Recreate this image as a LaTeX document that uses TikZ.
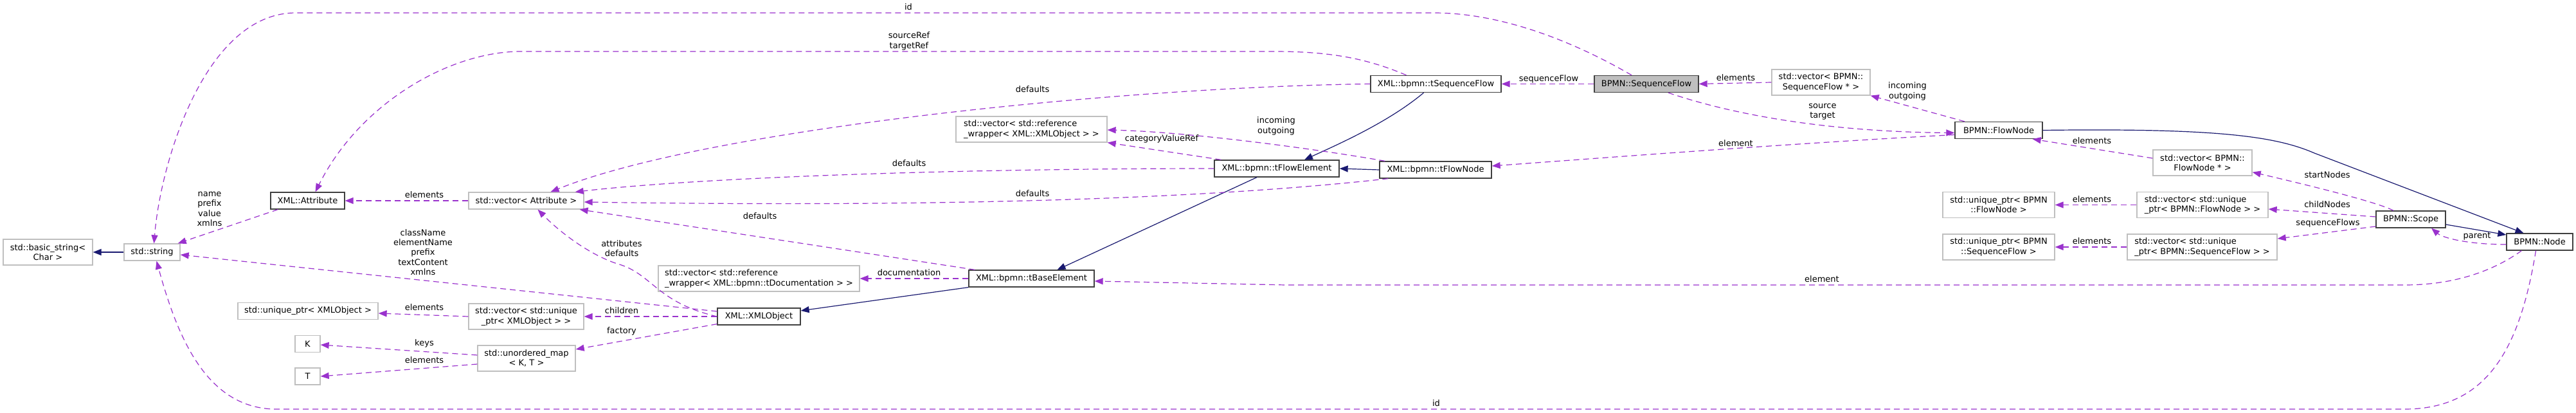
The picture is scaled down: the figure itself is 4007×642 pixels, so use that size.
\documentclass[tikz,border=0pt]{standalone}
\usepackage{fontspec}
\setmainfont{DejaVu Sans}
\usetikzlibrary{arrows.meta}
\definecolor{inhc}{HTML}{191970}
\definecolor{usec}{HTML}{9A32CD}
\definecolor{grayb}{HTML}{BFBFBF}
\definecolor{darkb}{HTML}{404040}
\begin{document}
\begin{tikzpicture}[x=1pt,y=-1pt,
  txt/.style={font=\fontsize{13pt}{15.3pt}\selectfont},
  box/.style={txt, rectangle, inner sep=0pt, align=center, line width=1.3pt},
  sz/.style 2 args={minimum width=#1pt, minimum height=#2pt},
  cls/.style={box, draw=darkb, fill=white},
  ext/.style={box, draw=grayb, fill=white},
  mainc/.style={box, draw=darkb, fill=grayb},
  lbl/.style={txt, align=center, inner sep=0pt},
  inh/.style={draw=inhc, line width=1.2pt, -{Triangle[length=13pt,width=10pt]}},
  use/.style={draw=usec, line width=1.2pt, dash pattern=on 9pt off 6pt, -{Triangle[length=13pt,width=10pt]}}
]
\fill[white] (0,0) rectangle (4007,642);
\useasboundingbox (0,0) rectangle (4007,642);

% nodes
\node[ext, sz={139}{40}] (bstr) at (74.5,392) {std::basic\_string<\\Char >};
\node[ext, sz={87}{26}] (str) at (236.5,392) {std::string};
\node[cls, sz={115}{26}] (attr) at (478.5,312) {XML::Attribute};
\node[ext, sz={179}{26}] (vattr) at (818.5,312) {std::vector< Attribute >};
\node[ext, sz={218}{26}] (uxml) at (479,483.5) {std::unique\_ptr< XMLObject >};
\node[ext, sz={39}{26}] (K) at (478.5,534.5) {K};
\node[ext, sz={39}{26}] (T) at (478.5,585) {T};
\node[ext, sz={179}{40}] (vuxml) at (818.5,492) {std::vector< std::unique\\\_ptr< XMLObject > >};
\node[ext, sz={152}{40}] (umap) at (819,557) {std::unordered\_map\\< K, T >};
\node[cls, sz={129}{26}] (xmlobj) at (1180.5,492) {XML::XMLObject};
\node[ext, sz={313}{40}, align=left] (vdoc) at (1180.5,433) {std::vector< std::reference\\\_wrapper< XML::bpmn::tDocumentation > >};
\node[cls, sz={195}{26}] (tbase) at (1604.5,433) {XML::bpmn::tBaseElement};
\node[ext, sz={235}{40}, align=left] (vref) at (1604.5,201) {std::vector< std::reference\\\_wrapper< XML::XMLObject > >};
\node[cls, sz={194}{26}] (tfe) at (1986,262) {XML::bpmn::tFlowElement};
\node[cls, sz={203}{26}] (tsf) at (2233.5,130.5) {XML::bpmn::tSequenceFlow};
\node[cls, sz={174}{26}] (tfn) at (2233,264) {XML::bpmn::tFlowNode};
\node[mainc, sz={162}{26}] (sf) at (2561,130.5) {BPMN::SequenceFlow};
\node[ext, sz={153}{40}] (vsf) at (2832.5,128) {std::vector< BPMN::\\SequenceFlow * >};
\node[cls, sz={136}{26}] (fn) at (3109,202.5) {BPMN::FlowNode};
\node[ext, sz={154}{40}] (vfn) at (3426,253) {std::vector< BPMN::\\FlowNode * >};
\node[ext, sz={174}{40}] (ufn) at (3109,318.5) {std::unique\_ptr< BPMN\\::FlowNode >};
\node[ext, sz={204}{40}, align=left] (vufn) at (3426,318.5) {std::vector< std::unique\\\_ptr< BPMN::FlowNode > >};
\node[ext, sz={174}{40}] (usf) at (3109,384) {std::unique\_ptr< BPMN\\::SequenceFlow >};
\node[ext, sz={233}{40}, align=left] (vusf) at (3425.5,384) {std::vector< std::unique\\\_ptr< BPMN::SequenceFlow > >};
\node[cls, sz={108}{26}] (scope) at (3750,341) {BPMN::Scope};
\node[cls, sz={103}{26}] (bnode) at (3950.5,376) {BPMN::Node};

% inheritance
\draw[inh] (str.west) -- (bstr.east);
\draw[inh] (tbase.south west) -- ([yshift=9pt]xmlobj.east);
\draw[inh] ([xshift=-31pt]tfe.south) -- ([xshift=40pt]tbase.north);
\draw[inh] ([xshift=-19pt]tsf.south) .. controls (2160,190) and (2080,225) .. ([xshift=43pt]tfe.north);
\draw[inh] (tfn.west) -- (tfe.east);
\draw[inh] (fn.east) .. controls (3450,199) and (3540,212) .. (3600,238) -- ([xshift=-25pt]bnode.north);
\draw[inh] ([yshift=-8pt]scope.east) -- ([yshift=11pt]bnode.west);

% usage
\draw[use] ([xshift=12pt]attr.south west) -- ([xshift=-4pt]str.north east);
\draw[use] (vattr.west) -- (attr.east);
\draw[use] ([yshift=8pt]xmlobj.west) -- ([yshift=-4pt]str.east);
\draw[use] (xmlobj.west) .. controls (1020,470) and (1015,425) .. (960,410) .. controls (915,395) and (870,360) .. ([xshift=18pt]vattr.south);
\draw[use] (xmlobj.west) -- (vuxml.east);
\draw[use] ([yshift=2pt]xmlobj.south west) -- ([yshift=14pt]umap.east);
\draw[use] (vuxml.west) -- ([yshift=-3.5pt]uxml.east);
\draw[use] ([yshift=5pt]umap.west) -- ([yshift=-1.5pt]K.east);
\draw[use] ([yshift=-9pt]umap.west) -- (T.east);
\draw[use] ([xshift=10pt]tbase.north west) -- ([xshift=-7pt]vattr.south east);
\draw[use] (tbase.west) -- (vdoc.east);
\draw[use] (tfe.west) .. controls (1500,262) and (1100,275) .. ([xshift=-14pt]vattr.north east);
\draw[use] ([xshift=14pt]tfn.south west) .. controls (1800,318) and (1300,320) .. ([yshift=-2pt]vattr.east);
\draw[use] (tsf.west) .. controls (1750,135) and (1100,200) .. ([xshift=38pt]vattr.north);
\draw[use] ([xshift=-46pt]tsf.north) .. controls (2120,88) and (2060,80) .. (1980,80) -- (810,80) .. controls (700,80) and (560,160) .. ([xshift=12pt]attr.north);
\draw[use] ([xshift=-23pt]sf.north) .. controls (2440,60) and (2330,20) .. (2230,20) -- (460,20) .. controls (320,20) and (250,250) .. ([xshift=3pt]str.north);
\draw[use] ([xshift=-6pt]bnode.south) .. controls (3920,540) and (3870,636) .. (3740,636) -- (430,636) .. controls (320,636) and (275,520) .. ([xshift=7pt]str.south);
\draw[use] (sf.west) -- (tsf.east);
\draw[use] (vsf.west) -- (sf.east);
\draw[use] ([xshift=-53pt]fn.north) -- (vsf.south east);
\draw[use] ([xshift=34pt]sf.south) .. controls (2700,180) and (2850,205) .. ([yshift=-4pt]fn.west);
\draw[use] ([yshift=-7pt]fn.west) .. controls (2800,222) and (2500,245) .. ([yshift=6pt]tfn.east);
\draw[use] ([yshift=7pt]vfn.west) -- ([xshift=-16pt]fn.south east);
\draw[use] (vufn.west) -- (ufn.east);
\draw[use] (vusf.west) -- (usf.east);
\draw[use] ([xshift=-27pt]scope.north) .. controls (3700,315) and (3600,290) .. ([yshift=6pt]vfn.south east);
\draw[use] ([yshift=4pt]scope.west) -- ([yshift=-6.5pt]vufn.east);
\draw[use] ([yshift=-11pt]scope.west) -- ([yshift=13pt]vusf.east);
\draw[use] ([yshift=-4pt]bnode.west) .. controls (3840,380) and (3800,370) .. ([xshift=32pt]scope.south);
\draw[use] ([xshift=24pt]bnode.south west) .. controls (3880,420) and (3820,443) .. (3740,443) -- (2000,443) -- ([yshift=-4pt]tbase.east);
\draw[use] ([xshift=9pt]tfn.north west) .. controls (2050,232) and (1850,205) .. ([yshift=-1pt]vref.east);
\draw[use] ([xshift=11pt]tfe.north west) -- (vref.south east);

% labels
\node[lbl] (l1) at (326,325) {name\\prefix\\value\\xmlns};
\node[lbl] (l2) at (660,303) {elements};
\node[lbl] (l3) at (658,392) {className\\elementName\\prefix\\textContent\\xmlns};
\node[lbl] (l4) at (967,386) {attributes\\defaults};
\node[lbl] (l5) at (967,483) {children};
\node[lbl] (l6) at (967,515) {factory};
\node[lbl] (l7) at (660,478) {elements};
\node[lbl] (l8) at (660,534) {keys};
\node[lbl] (l9) at (660,560) {elements};
\node[lbl] (l10) at (1182,336) {defaults};
\node[lbl] (l11) at (1414,424) {documentation};
\node[lbl] (l12) at (1414,254) {defaults};
\node[lbl] (l13) at (1606,301) {defaults};
\node[lbl] (l14) at (1606,139) {defaults};
\node[lbl] (l15) at (1414,64) {sourceRef\\targetRef};
\node[lbl] (l16) at (1413,11) {id};
\node[lbl] (l17) at (2234,627) {id};
\node[lbl] (l18) at (2409,123) {sequenceFlow};
\node[lbl] (l19) at (2700,121) {elements};
\node[lbl] (l20) at (2967,142) {incoming\\outgoing};
\node[lbl] (l21) at (2835,174) {source\\target};
\node[lbl] (l22) at (2700,223) {element};
\node[lbl] (l23) at (3254,219) {elements};
\node[lbl] (l24) at (3254,310) {elements};
\node[lbl] (l25) at (3254,375) {elements};
\node[lbl] (l26) at (3620,272) {startNodes};
\node[lbl] (l27) at (3620,318) {childNodes};
\node[lbl] (l28) at (3621,347) {sequenceFlows};
\node[lbl] (l29) at (3853,367) {parent};
\node[lbl] (l30) at (2834,434) {element};
\node[lbl] (l31) at (1985,196) {incoming\\outgoing};
\node[lbl] (l32) at (1807,216) {categoryValueRef};
\end{tikzpicture}
\end{document}
